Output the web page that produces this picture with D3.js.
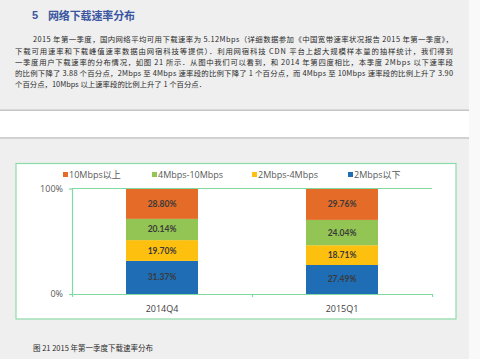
<!DOCTYPE html>
<html><head><meta charset="utf-8">
<script src="https://cdn.jsdelivr.net/npm/d3@7/dist/d3.min.js"></script>
<style>html,body{margin:0;padding:0;background:#efefef;}svg{display:block;}</style>
</head><body>
<svg id="c" width="480" height="359"></svg>
<script>
const categories = ["2014Q4", "2015Q1"];
const seriesNames = ["2Mbps以下", "2Mbps-4Mbps", "4Mbps-10Mbps", "10Mbps以上"];
const below2 = [31.37, 27.49];
const from2to4 = [19.70, 18.71];
const from4to10 = [20.14, 24.04];
const above10 = [28.80, 29.76];
const yTickLabels = ["0%", "100%"];
const legendOrder = ["10Mbps以上", "4Mbps-10Mbps", "2Mbps-4Mbps", "2Mbps以下"];
const colors = {"2Mbps以下":"#1e6db5","2Mbps-4Mbps":"#fec00f","4Mbps-10Mbps":"#92c553","10Mbps以上":"#e46b28"};
const titleText = ["5", "网络下载速率分布"];
const paragraph = [
 "2015 年第一季度，国内网络平均可用下载速率为 5.12Mbps（详细数据参加《中国宽带速率状况报告 2015 年第一季度》，",
 "下载可用速率和下载峰值速率数据由网宿科技等提供）．利用网宿科技 CDN 平台上超大规模样本量的抽样统计，我们得到",
 "一季度用户下载速率的分布情况，如图 21 所示．从图中我们可以看到，和 2014 年第四度相比，本季度 2Mbps 以下速率段",
 "的比例下降了 3.88 个百分点，2Mbps 至 4Mbps 速率段的比例下降了 1 个百分点，而 4Mbps 至 10Mbps 速率段的比例上升了 3.90",
 "个百分点，10Mbps 以上速率段的比例上升了 1 个百分点．"
];
const caption = "图 21 2015 年第一季度下载速率分布";

const svg = d3.select("#c");
const cjk = "'Noto Sans CJK SC', sans-serif";
// page structure
svg.append("rect").attr("x",469).attr("y",0).attr("width",11).attr("height",359).attr("fill","#f9f9f9");
svg.append("rect").attr("x",0).attr("y",110).attr("width",469).attr("height",28).attr("fill","#ffffff");
svg.append("rect").attr("x",0).attr("y",109.5).attr("width",469).attr("height",1.5).attr("fill","#c6c6c6");
svg.append("rect").attr("x",0).attr("y",137.2).attr("width",469).attr("height",1.5).attr("fill","#c6c6c6");

// title
svg.append("text").attr("x",32).attr("y",19).attr("font-family","Arial, sans-serif").attr("font-weight","bold")
  .attr("font-size",11).attr("fill","#3a56a0").text(titleText[0]);
svg.append("text").attr("x",48).attr("y",19.5).attr("font-family",cjk).attr("font-weight","bold")
  .attr("font-size",11).attr("fill","#3a56a0").attr("textLength",87).text(titleText[1]);

// paragraph
const lineY = d3.scaleLinear().domain([0,4]).range([42.3, 87.3]);
paragraph.forEach((t,i)=>{
  const x0 = i===0 ? 33 : 15;
  const tx = svg.append("text").attr("x",x0).attr("y",lineY(i))
    .attr("font-family",cjk).attr("font-size",7.4).attr("fill","#2a2a2a").text(t);
  if(i<paragraph.length-1) tx.attr("textLength",453-x0).attr("lengthAdjust","spacing");
});

// chart box
svg.append("rect").attr("x",16).attr("y",163.5).attr("width",440).attr("height",155.5)
  .attr("fill","#ffffff").attr("stroke","#8edbaa").attr("stroke-width",1.2);

// legend
const legX = [63, 152, 252, 348];
legendOrder.forEach((n,i)=>{
  svg.append("rect").attr("x",legX[i]).attr("y",172).attr("width",5).attr("height",5).attr("fill",colors[n]);
  svg.append("text").attr("x",legX[i]+6).attr("y",178.2).attr("font-family","'Open Sans', "+cjk)
    .attr("font-size",9).attr("fill","#595959").text(n);
});

// plot
const pLeft = 72, pRight = 432, pTop = 188.5, pBottom = 294;
const x = d3.scaleBand().domain(categories).range([pLeft,pRight]).paddingInner(0.6).paddingOuter(0.3);
const y = d3.scaleLinear().domain([0,100]).range([pBottom, pTop]);

const data = categories.map((c,i)=>({cat:c,"2Mbps以下":below2[i],"2Mbps-4Mbps":from2to4[i],"4Mbps-10Mbps":from4to10[i],"10Mbps以上":above10[i]}));
const stack = d3.stack().keys(seriesNames)(data);

const g = svg.append("g");
stack.forEach(s=>{
  g.selectAll(null).data(s).enter().append("rect")
    .attr("x",d=>x(d.data.cat)).attr("width",x.bandwidth())
    .attr("y",d=>y(d[1])).attr("height",d=>y(d[0])-y(d[1]))
    .attr("fill",colors[s.key]);
  g.selectAll(null).data(s).enter().append("text")
    .attr("x",d=>x(d.data.cat)+x.bandwidth()/2).attr("y",d=>(y(d[0])+y(d[1]))/2+3)
    .attr("text-anchor","middle").attr("font-family","Lato, 'Open Sans', sans-serif").attr("font-weight","bold")
    .attr("font-size",8.5).attr("fill","#3a3a3a")
    .text(d=>(d[1]-d[0]).toFixed(2)+"%");
});

const green = "#7fd9a0";
svg.append("line").attr("x1",pLeft).attr("x2",pRight).attr("y1",y(100)).attr("y2",y(100))
  .attr("stroke",green).attr("stroke-width",1.2);
const yAxis = d3.axisLeft(y).tickValues([0,100]).tickSizeInner(3).tickSizeOuter(0)
  .tickFormat((d,i)=>yTickLabels[i]).tickPadding(6);
const ya = svg.append("g").attr("transform",`translate(${pLeft},0)`).call(yAxis);
ya.select(".domain").attr("stroke",green).attr("stroke-width",1.2);
ya.selectAll(".tick line").attr("stroke",green).attr("stroke-width",1.2);
ya.selectAll(".tick text").attr("font-family","'Open Sans', sans-serif").attr("font-size",9).attr("fill","#595959");

const edgeScale = d3.scaleLinear().domain([0,categories.length]).range([pLeft,pRight]);
const xa = svg.append("g").attr("transform",`translate(0,${pBottom})`)
  .call(d3.axisBottom(edgeScale).tickValues(d3.range(0,categories.length+1)).tickSizeInner(3).tickSizeOuter(0).tickFormat(""));
xa.select(".domain").attr("stroke",green).attr("stroke-width",1.2);
xa.selectAll(".tick line").attr("stroke",green).attr("stroke-width",1.2);
svg.append("g").selectAll("text").data(categories).enter().append("text")
  .attr("x",d=>x(d)+x.bandwidth()/2).attr("y",311.5).attr("text-anchor","middle")
  .attr("font-family","'Open Sans', sans-serif").attr("font-size",9).attr("fill","#404040").text(d=>d);

svg.append("text").attr("x",33).attr("y",351).attr("font-family",cjk).attr("font-size",7.5)
  .attr("fill","#2a2a2a").text(caption);
</script>
</body></html>
